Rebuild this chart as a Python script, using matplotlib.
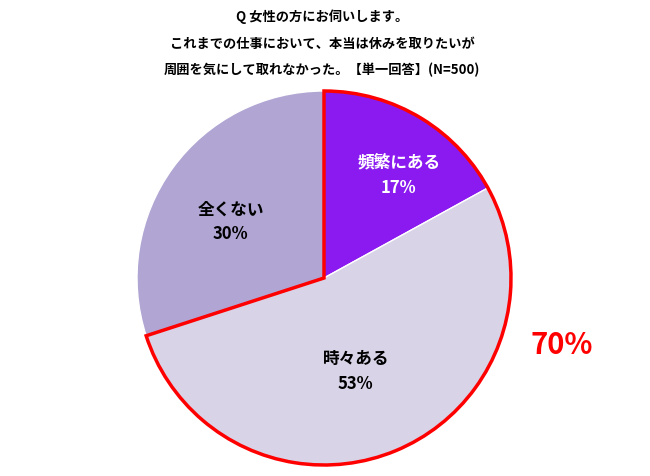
import numpy as np
import matplotlib.pyplot as plt
from matplotlib.patches import Wedge

plt.rcParams['font.family'] = ['Noto Sans CJK JP', 'DejaVu Sans']

labels = ['頻繁にある', '時々ある', '全くない']
values = [17, 53, 30]
colors = ['#8A1AF0', '#D8D3E6', '#B1A6D3']
title_lines = ['Q 女性の方にお伺いします。',
               'これまでの仕事において、本当は休みを取りたいが',
               '周囲を気にして取れなかった。【単一回答】(N=500)']
highlight = 70

W, H = 650, 476
fig = plt.figure(figsize=(W / 100, H / 100), dpi=100)

cx, cy, r = 324, H - 278, 187
ax = fig.add_axes([(cx - r) / W, (cy - r) / H, 2 * r / W, 2 * r / H])
wedges, _ = ax.pie(values, colors=colors, startangle=90, counterclock=False,
                   radius=1, wedgeprops=dict(edgecolor='white', linewidth=1))
ax.set_xlim(-1, 1)
ax.set_ylim(-1, 1)
ax.set_aspect('equal')
ax.axis('off')

# red outline around the first two slices
span = sum(values[:2]) / sum(values) * 360
ax.add_patch(Wedge((0, 0), 1, 90 - span, 90, fill=False, edgecolor='#FF0000',
                   linewidth=2.5, zorder=5, clip_on=False))

# slice labels
label_pos = [(0.40, 0.55), (0.17, -0.50), (-0.50, 0.30)]
text_colors = ['white', 'black', 'black']
for (x, y), lab, v, tc in zip(label_pos, labels, values, text_colors):
    ax.text(x, y, f'{lab}\n{v}%', ha='center', va='center', fontsize=12,
            fontweight='bold', color=tc, linespacing=1.5, zorder=6)

for i, line in enumerate(title_lines):
    fig.text(322 / W, 1 - (17 + i * 26.5) / H, line, ha='center', va='center',
             fontsize=9.5, fontweight='bold')

fig.text(562 / W, 1 - 345 / H, f'{highlight}%', ha='center', va='center',
         fontsize=21, fontweight='bold', color='#FF0000')

fig.savefig('out.png', dpi=100)
